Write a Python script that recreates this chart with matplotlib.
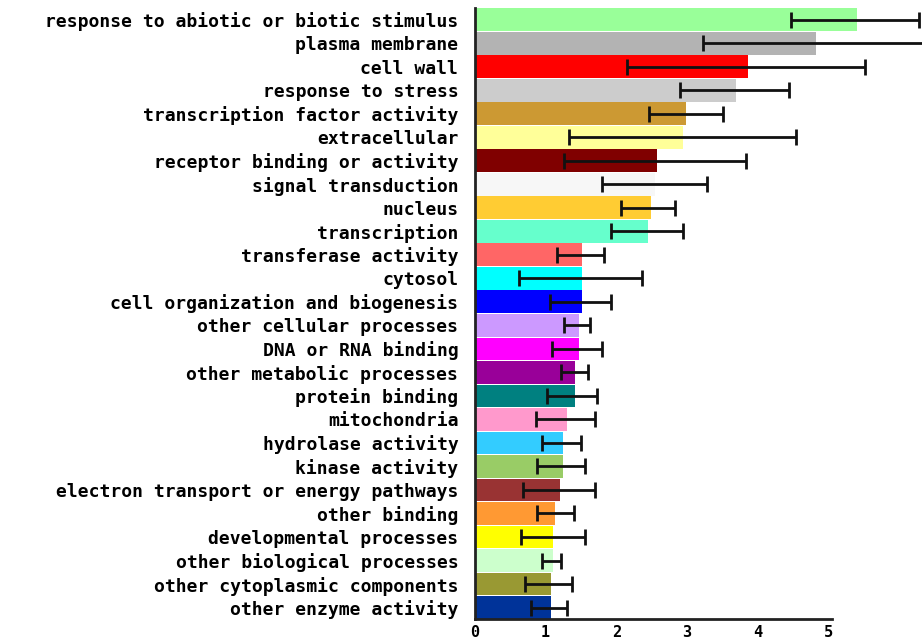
import numpy as np
import matplotlib.pyplot as plt

categories = [
    'response to abiotic or biotic stimulus', 'plasma membrane', 'cell wall',
    'response to stress', 'transcription factor activity', 'extracellular',
    'receptor binding or activity', 'signal transduction', 'nucleus',
    'transcription', 'transferase activity', 'cytosol',
    'cell organization and biogenesis', 'other cellular processes',
    'DNA or RNA binding', 'other metabolic processes', 'protein binding',
    'mitochondria', 'hydrolase activity', 'kinase activity',
    'electron transport or energy pathways', 'other binding',
    'developmental processes', 'other biological processes',
    'other cytoplasmic components', 'other enzyme activity',
]
values = [5.41, 4.83, 3.86, 3.69, 2.99, 2.95, 2.58, 2.55, 2.49, 2.45,
          1.51, 1.51, 1.51, 1.47, 1.47, 1.41, 1.41, 1.31, 1.24, 1.24,
          1.21, 1.14, 1.11, 1.11, 1.08, 1.08]
err_low = [4.47, 3.23, 2.16, 2.90, 2.47, 1.33, 1.26, 1.80, 2.07, 1.93,
           1.16, 0.62, 1.06, 1.26, 1.09, 1.22, 1.02, 0.86, 0.95, 0.88,
           0.68, 0.88, 0.65, 0.95, 0.71, 0.79]
err_high = [6.29, 6.43, 5.53, 4.45, 3.51, 4.55, 3.84, 3.28, 2.83, 2.94,
            1.83, 2.37, 1.93, 1.63, 1.80, 1.60, 1.73, 1.70, 1.50, 1.56,
            1.70, 1.40, 1.56, 1.22, 1.37, 1.30]
colors = ['#99FF99', '#B3B3B3', '#FF0000', '#CCCCCC', '#CC9933', '#FFFF99',
          '#800000', '#F7F7F7', '#FFCC33', '#66FFCC', '#FF6666', '#00FFFF',
          '#0000FF', '#CC99FF', '#FF00FF', '#990099', '#008080', '#FF99CC',
          '#33CCFF', '#99CC66', '#993333', '#FF9933', '#FFFF00', '#CCFFCC',
          '#999933', '#003399']
xticks = [0, 1, 2, 3, 4, 5]

values = np.array(values)
xerr = np.vstack([values - np.array(err_low), np.array(err_high) - values])
y = np.arange(len(categories))

fig = plt.figure(figsize=(9.22, 6.43), dpi=100)
ax = fig.add_axes([475 / 922, 23.7 / 643, 1 - 475 / 922, (619.3 - 8) / 643])

ax.barh(y, values, height=0.97, color=colors, zorder=1)
ax.errorbar(values, y, xerr=xerr, fmt='none', ecolor='#111111',
            elinewidth=2, capsize=5.5, capthick=2, zorder=2)

ax.set_ylim(len(categories) - 0.5, -0.5)
ax.set_xlim(0, (922 - 475) / 70.6)
ax.set_yticks(y)
ax.set_yticklabels(categories, family='DejaVu Sans Mono', fontweight='bold',
                   fontsize=13)
ax.set_xticks(xticks)
ax.set_xticklabels([str(t) for t in xticks], family='DejaVu Sans Mono',
                   fontweight='bold', fontsize=11)
ax.tick_params(axis='y', length=0, pad=12)
ax.tick_params(axis='x', length=0, pad=4)

for side in ['top', 'right']:
    ax.spines[side].set_visible(False)
for side in ['left', 'bottom']:
    ax.spines[side].set_linewidth(2)
    ax.spines[side].set_color('#222222')
ax.spines['bottom'].set_bounds(0, 5.05)

fig.savefig('out.png', dpi=100)
